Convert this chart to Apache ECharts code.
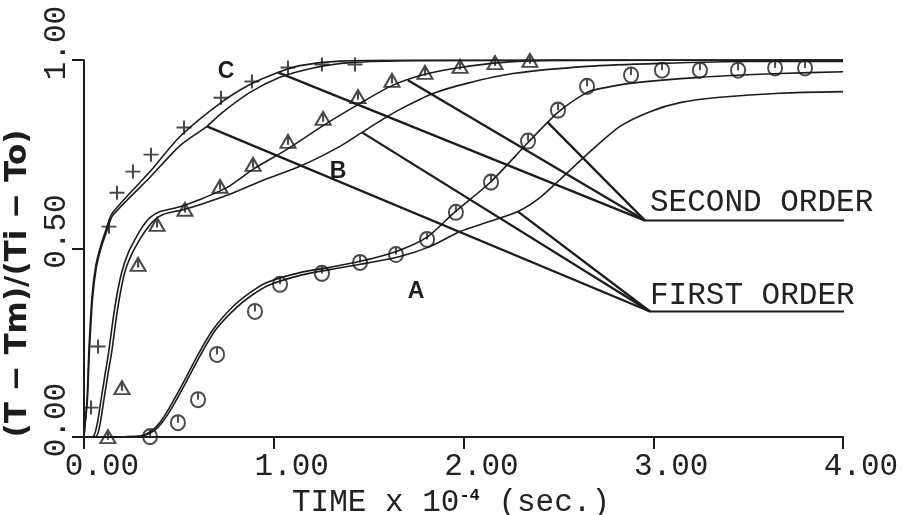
<!DOCTYPE html>
<html>
<head>
<meta charset="utf-8">
<script src="https://cdn.jsdelivr.net/npm/echarts@6.0.0/dist/echarts.min.js"></script>
<style>
  html, body { margin: 0; padding: 0; background: #ffffff; }
  #chart { width: 902px; height: 515px; }
</style>
</head>
<body>
<div id="chart"></div>
<script>
// Dimensionless temperature (T - Tm)/(Ti - To) against time for runs A, B and C:
// measured points plus the first-order and second-order model curves.

const xTickValues = [0, 1, 2, 3, 4];
const yTickValues = [0, 0.5, 1];

// Measured points [time x 1e-4 s, (T-Tm)/(Ti-To)]
const pointsA = [[0.348,0.001],[0.495,0.038],[0.601,0.099],[0.701,0.219],[0.901,0.333],[1.033,0.405],
  [1.254,0.434],[1.455,0.463],[1.644,0.484],[1.808,0.524],[1.960,0.596],[2.145,0.676],[2.340,0.785],
  [2.498,0.867],[2.651,0.930],[2.883,0.960],[3.046,0.973],[3.246,0.973],[3.447,0.973],[3.642,0.979],[3.800,0.979]];
const pointsB = [[0.126,0.001],[0.200,0.131],[0.285,0.458],[0.385,0.564],[0.532,0.604],[0.717,0.665],
  [0.891,0.723],[1.075,0.784],[1.260,0.845],[1.444,0.903],[1.623,0.946],[1.797,0.967],[1.982,0.983],
  [2.166,0.993],[2.350,0.999]];
const pointsC = [[0.037,0.078],[0.074,0.240],[0.132,0.558],[0.174,0.648],[0.258,0.704],[0.353,0.749],
  [0.527,0.821],[0.722,0.900],[0.885,0.943],[1.075,0.980],[1.254,0.988],[1.428,0.988]];

// Model curves, first order (1) and second order (2)
const curveC2 = [[0,0],[0.005,0.033],[0.016,0.099],[0.026,0.232],[0.042,0.372],[0.063,0.457],[0.090,0.511],
  [0.116,0.550],[0.148,0.593],[0.348,0.704],[0.506,0.797],[0.722,0.887],[0.875,0.935],[1.022,0.967],
  [1.138,0.985],[1.349,0.997],[1.771,1.0],[4.0,1.0]];
const curveC1 = [[0,0],[0.006,0.033],[0.018,0.099],[0.029,0.232],[0.046,0.372],[0.067,0.455],[0.094,0.508],
  [0.120,0.546],[0.152,0.588],[0.348,0.689],[0.506,0.773],[0.648,0.824],[0.722,0.858],[0.875,0.914],
  [1.033,0.954],[1.191,0.977],[1.402,0.993],[1.771,0.998],[4.0,1.0]];
const curveB2 = [[0,0],[0.047,0.001],[0.069,0.033],[0.090,0.099],[0.111,0.166],[0.132,0.232],[0.153,0.312],
  [0.174,0.378],[0.200,0.439],[0.232,0.487],[0.269,0.524],[0.306,0.556],[0.348,0.582],[0.401,0.598],
  [0.506,0.611],[0.611,0.630],[0.754,0.662],[0.891,0.710],[1.070,0.763],[1.260,0.826],[1.455,0.885],
  [1.623,0.932],[1.797,0.962],[1.982,0.980],[2.192,0.993],[2.456,0.999],[4.0,1.0]];
const curveB1 = [[0,0],[0.063,0.001],[0.084,0.033],[0.105,0.099],[0.126,0.166],[0.148,0.232],[0.169,0.312],
  [0.190,0.378],[0.216,0.439],[0.248,0.481],[0.285,0.516],[0.321,0.545],[0.364,0.572],[0.416,0.590],
  [0.522,0.603],[0.627,0.619],[0.754,0.641],[0.928,0.678],[1.138,0.718],[1.349,0.771],[1.465,0.808],
  [1.576,0.843],[1.665,0.869],[1.839,0.911],[2.018,0.938],[2.261,0.964],[2.651,0.983],[3.036,0.991],
  [3.510,0.996],[4.0,0.996]];
const curveA2 = [[0,0],[0.242,0.001],[0.306,0.004],[0.358,0.017],[0.401,0.039],[0.453,0.080],[0.532,0.152],
  [0.596,0.214],[0.680,0.285],[0.785,0.346],[0.875,0.383],[0.964,0.410],[1.138,0.436],[1.296,0.450],
  [1.455,0.466],[1.650,0.493],[1.808,0.530],[1.955,0.597],[2.140,0.675],[2.340,0.781],[2.498,0.861],
  [2.651,0.914],[2.719,0.924],[2.877,0.938],[3.246,0.954],[3.668,0.964],[4.0,0.969]];
const curveA1 = [[0,0],[0.250,0.001],[0.318,0.004],[0.370,0.017],[0.413,0.039],[0.466,0.080],[0.545,0.152],
  [0.610,0.214],[0.695,0.285],[0.800,0.342],[0.890,0.378],[0.980,0.404],[1.150,0.430],[1.296,0.444],
  [1.455,0.458],[1.665,0.479],[1.823,0.505],[1.982,0.545],[2.140,0.572],[2.287,0.598],[2.403,0.635],
  [2.509,0.683],[2.667,0.757],[2.825,0.824],[2.983,0.863],[3.141,0.887],[3.352,0.901],[3.668,0.912],[4.0,0.916]];

// Callout lines: where each one leaves its curve, and where the two labels sit
const firstOrderFrom = [[0.648,0.824],[1.465,0.808],[2.287,0.598]];
const secondOrderFrom = [[1.022,0.967],[1.707,0.946],[2.445,0.834]];
const firstOrderAt = [2.983,0.333];
const secondOrderAt = [2.957,0.574];
const calloutEndTime = 4.21;

const ink = '#1c1c1c';
const mono = 'Liberation Mono';

const plusMark = 'path://M0,7L14,7M7,0L7,14';
const triangleMark = 'path://M7,0L14,12L0,12ZM7,2L7,9';
const roundMark = 'path://M7,0C11,0,14,3,14,7C14,11,11,14,7,14C3,14,0,11,0,7C0,3,3,0,7,0ZM7,0L7,7';

function curve(data) {
  return {
    type: 'line', data: data, showSymbol: false, symbol: 'none', smooth: 0.25,
    lineStyle: { color: ink, width: 1.6 }, silent: true, z: 3
  };
}
function points(data, mark, size) {
  return {
    type: 'scatter', data: data, symbol: mark, symbolSize: size, silent: true, z: 4,
    itemStyle: { color: 'rgba(0,0,0,0)', borderColor: ink, borderWidth: 2 }
  };
}
function segment(from, to, width) {
  return {
    type: 'line', data: [from, to], symbol: 'none', clip: false, silent: true, z: 3,
    lineStyle: { color: ink, width: width }
  };
}

const series = [
  curve(curveC2), curve(curveC1), curve(curveB2), curve(curveB1), curve(curveA2), curve(curveA1),
  points(pointsC, plusMark, [15, 14]),
  points(pointsB, triangleMark, [15, 13]),
  points(pointsA, roundMark, [14, 15])
];
firstOrderFrom.forEach(p => series.push(segment(p, firstOrderAt, 2.3)));
secondOrderFrom.forEach(p => series.push(segment(p, secondOrderAt, 2.3)));
series.push(segment(firstOrderAt, [calloutEndTime, firstOrderAt[1]], 2));
series.push(segment(secondOrderAt, [calloutEndTime, secondOrderAt[1]], 2));

const chart = echarts.init(document.getElementById('chart'), null, { renderer: 'canvas' });
chart.setOption({
  animation: false,
  backgroundColor: '#ffffff',
  grid: { left: 84, right: 59, top: 60, bottom: 78, containLabel: false, outerBoundsMode: 'none' },
  xAxis: {
    type: 'value', min: xTickValues[0], max: xTickValues[xTickValues.length - 1], interval: 1,
    splitLine: { show: false },
    axisLine: { show: true, onZero: false, lineStyle: { color: ink, width: 2 } },
    axisTick: { show: true, inside: false, length: 12, lineStyle: { color: ink, width: 2 } },
    axisLabel: {
      color: '#222', fontFamily: mono, fontSize: 31, margin: 14,
      padding: [0, 0, 0, 36],
      formatter: v => v.toFixed(2)
    },
    name: 'TIME x 10{s|-4} (sec.)',
    nameLocation: 'middle', nameGap: 33,
    nameTextStyle: {
      color: '#222', fontFamily: mono, fontSize: 31, padding: [0, 25, 0, 0],
      rich: { s: { fontFamily: mono, fontSize: 17, fontWeight: 'bold', color: '#111', verticalAlign: 'top' } }
    }
  },
  yAxis: {
    type: 'value', min: yTickValues[0], max: yTickValues[yTickValues.length - 1], interval: 0.5,
    splitLine: { show: false },
    axisLine: { show: true, onZero: false, lineStyle: { color: ink, width: 2 } },
    axisTick: { show: true, inside: false, length: 12, lineStyle: { color: ink, width: 2 } },
    axisLabel: {
      color: '#222', fontFamily: mono, fontSize: 31, margin: 27, rotate: 90,
      align: 'center', verticalAlign: 'middle', padding: [0, 0, 0, 34],
      formatter: v => v.toFixed(2)
    },
    name: '(T − Tm)/(Ti − To)',
    nameLocation: 'middle', nameRotate: 90, nameGap: 55,
    nameTextStyle: {
      color: ink, fontFamily: 'DejaVu Sans', fontWeight: 'bold', fontSize: 31,
      align: 'center', verticalAlign: 'middle', padding: [0, 70, 0, 0]
    }
  },
  graphic: [
    { type: 'line', shape: { x1: 72, y1: 437, x2: 84, y2: 437 }, style: { stroke: ink, lineWidth: 2 }, silent: true },
    { type: 'text', x: 226, y: 72, style: { text: 'C', font: 'bold 23px "Liberation Sans"', fill: ink, align: 'center', verticalAlign: 'middle' } },
    { type: 'text', x: 338, y: 172, style: { text: 'B', font: 'bold 23px "Liberation Sans"', fill: ink, align: 'center', verticalAlign: 'middle' } },
    { type: 'text', x: 416, y: 292, style: { text: 'A', font: 'bold 23px "Liberation Sans"', fill: ink, align: 'center', verticalAlign: 'middle' } },
    { type: 'text', x: 650, y: 203, style: { text: 'SECOND ORDER', font: '31px "Liberation Mono"', fill: '#222', align: 'left', verticalAlign: 'middle' } },
    { type: 'text', x: 650, y: 296, style: { text: 'FIRST ORDER', font: '31px "Liberation Mono"', fill: '#222', align: 'left', verticalAlign: 'middle' } }
  ],
  series: series
});
</script>
</body>
</html>
